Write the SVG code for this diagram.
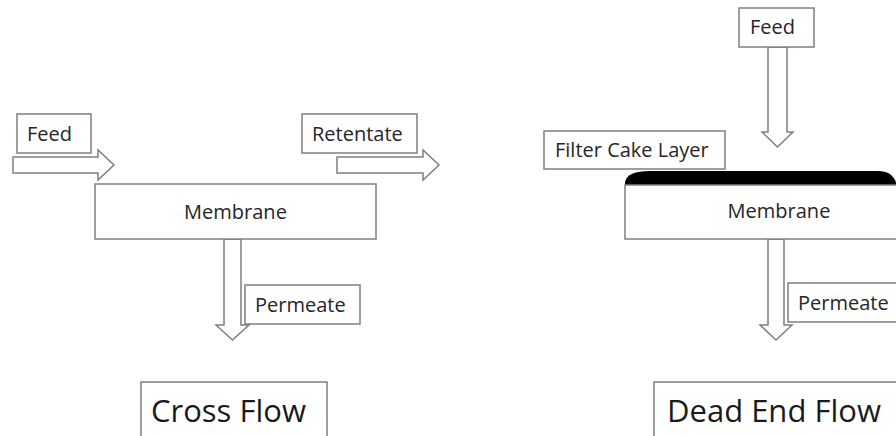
<svg xmlns="http://www.w3.org/2000/svg" width="896" height="436" viewBox="0 0 896 436">
<style>
.box{fill:#fff;stroke:#7f7f7f;stroke-width:1.5}
.arr{fill:#fff;stroke:#7f7f7f;stroke-width:1.5;stroke-linejoin:miter}
.t{font-family:"Open Sans","Noto Sans",sans-serif;font-size:20px;fill:#262626}
.title{font-family:"Open Sans","Noto Sans",sans-serif;font-size:31px;fill:#1a1a1a}
</style>
<rect width="896" height="436" fill="#fff"/>
<g id="connectors">
<polygon class="arr" points="13,157 98,157 98,150 114,165 98,180 98,173 13,173"/>
<polygon class="arr" points="337,157 423,157 423,150 439,165 423,180 423,173 337,173"/>
<polygon class="arr" points="224,239 241,239 241,325 249,325 232.5,340 216,325 224,325"/>
<polygon class="arr" points="768,47 787,47 787,132 793,132 777.5,147 762,132 768,132"/>
<polygon class="arr" points="768,239 784,239 784,325 792,325 776,340 760,325 768,325"/>
</g>
<g id="cf-feed"><rect class="box" x="17" y="114" width="74" height="39"/><text class="t" x="27" y="141">Feed</text></g>
<g id="cf-retentate"><rect class="box" x="302" y="114" width="115" height="39"/><text class="t" x="312" y="141">Retentate</text></g>
<g id="cf-membrane"><rect class="box" x="95" y="184" width="281" height="55"/><text class="t" x="235.5" y="219" text-anchor="middle">Membrane</text></g>
<g id="cf-permeate"><rect class="box" x="245" y="285" width="115" height="39"/><text class="t" x="255" y="312">Permeate</text></g>
<g id="cf-title"><rect class="box" x="141" y="382" width="186" height="60"/><text class="title" x="151" y="422">Cross Flow</text></g>
<g id="de-feed"><rect class="box" x="739" y="8" width="75" height="39"/><text class="t" x="750" y="34">Feed</text></g>
<g id="de-cake-label"><rect class="box" x="544" y="131" width="181" height="38"/><text class="t" x="555" y="157">Filter Cake Layer</text></g>
<g id="de-cake"><path d="M625,186 L625,182 Q627,171 650,171 L878,171 Q894,171 897,186 Z" fill="#000"/></g>
<g id="de-membrane"><rect class="box" x="625" y="185" width="280" height="54"/><text class="t" x="779" y="218" text-anchor="middle">Membrane</text></g>
<g id="de-permeate"><rect class="box" x="788" y="283" width="120" height="39"/><text class="t" x="798" y="310">Permeate</text></g>
<g id="de-title"><rect class="box" x="654" y="382" width="260" height="60"/><text class="title" x="667" y="422">Dead End Flow</text></g>
</svg>
